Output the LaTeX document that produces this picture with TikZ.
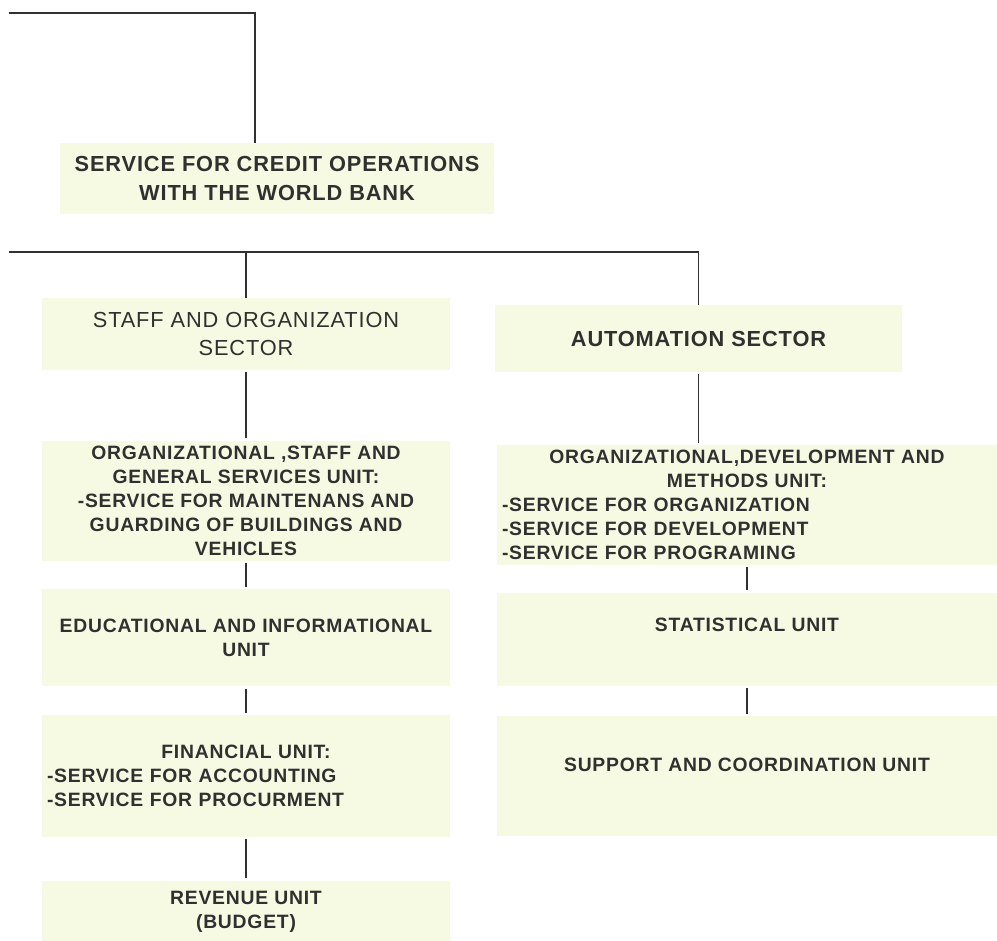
\documentclass[tikz,border=0pt]{standalone}
\usepackage{fontspec}
\setmainfont{Liberation Sans}
\newfontfamily\chartfont[LetterSpace=4]{Liberation Sans}
\usetikzlibrary{positioning}
\definecolor{boxfill}{RGB}{247,250,226}
\definecolor{inkgray}{RGB}{48,48,48}

\begin{document}
\begin{tikzpicture}[
  x=0.02cm,y=-0.02cm,
  unit/.style={fill=boxfill,text=inkgray,inner xsep=0.1cm,inner ysep=0pt,
    align=center,font=\chartfont\fontsize{11}{13.6}\selectfont\bfseries},
  sector/.style={unit,font=\chartfont\fontsize{12.4}{16}\selectfont\bfseries},
  leftunit/.style={unit,minimum width=8.16cm},
  rightunit/.style={unit,minimum width=10cm},
  listbox/.style={align=left},
  link/.style={draw=inkgray,line width=1pt},
  stub/.style={link,shorten <=0.04cm,shorten >=0.04cm}]
\useasboundingbox (0,0) rectangle (997,940);
\node[sector,minimum width=8.68cm,minimum height=1.42cm] (credit) at (277,178.5) {SERVICE FOR CREDIT OPERATIONS\\WITH THE WORLD BANK};
\node[sector,font=\chartfont\fontsize{12.4}{16}\selectfont,minimum width=8.16cm,minimum height=1.44cm] (staff) at (246,334) {STAFF AND ORGANIZATION\\SECTOR};
\node[sector,minimum width=8.14cm,minimum height=1.34cm] (auto) at (698.5,338.5) {AUTOMATION SECTOR};
% left column
\node[leftunit,minimum height=2.4cm,below=1.4cm of staff] (orgstaff) {ORGANIZATIONAL ,STAFF AND\\GENERAL SERVICES UNIT:\\-SERVICE FOR MAINTENANS AND\\GUARDING OF BUILDINGS AND\\VEHICLES};
\node[leftunit,minimum height=1.94cm,below=0.56cm of orgstaff] (educ) {EDUCATIONAL AND INFORMATIONAL\\UNIT};
\node[leftunit,listbox,text width=7.96cm,minimum height=2.44cm,below=0.56cm of educ] (financial) {{\centering FINANCIAL UNIT:\par}-SERVICE FOR ACCOUNTING\\-SERVICE FOR PROCURMENT};
\node[leftunit,minimum height=1.24cm,below=0.86cm of financial] (revenue) {REVENUE UNIT\\(BUDGET)};
% right column
\node[rightunit,listbox,text width=9.8cm,minimum height=2.4cm] (orgmethods) at (747,505) {{\centering ORGANIZATIONAL,DEVELOPMENT AND\\METHODS UNIT:\par}-SERVICE FOR ORGANIZATION\\-SERVICE FOR DEVELOPMENT\\-SERVICE FOR PROGRAMING};
\node[rightunit,minimum height=1.86cm,text depth=0.56cm,below=0.54cm of orgmethods] (stat) {STATISTICAL UNIT};
\node[rightunit,minimum height=2.4cm,text depth=0.48cm,below=0.6cm of stat] (support) {SUPPORT AND COORDINATION UNIT};
% connectors
\coordinate (topleft) at (9,13);
\coordinate (topturn) at (255,13);
\coordinate (busleft) at (9,252);
\draw[link] (topleft) -- (topturn) -- (topturn |- credit.north);
\draw[link] (busleft) -| (auto.north);
\draw[link] (busleft -| staff.north) -- (staff.north);
\draw[stub] (staff) -- (orgstaff);
\draw[stub] (orgstaff) -- (educ);
\draw[stub] (educ) -- (financial);
\draw[stub] (financial) -- (revenue);
\draw[stub] (auto.south) -- (auto.south |- orgmethods.north);
\draw[stub] (orgmethods) -- (stat);
\draw[stub] (stat) -- (support);
\end{tikzpicture}
\end{document}
